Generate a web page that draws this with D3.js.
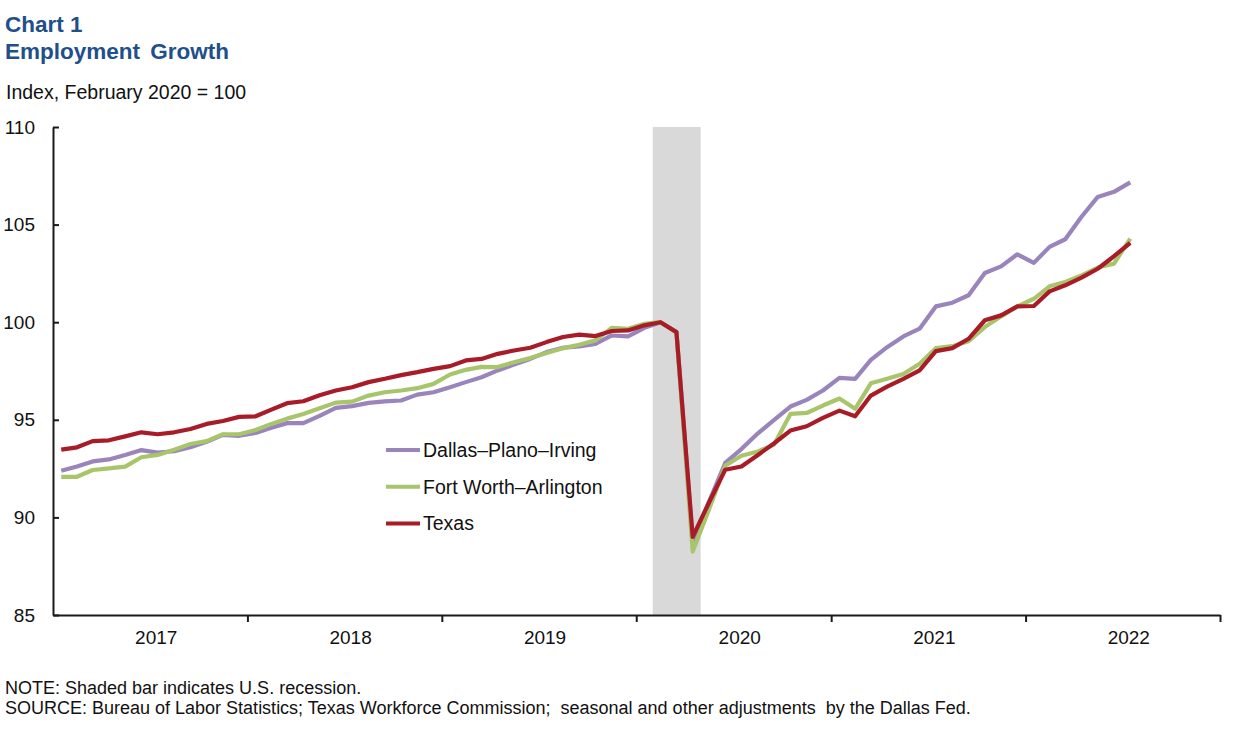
<!DOCTYPE html>
<meta charset="utf-8">
<style>
body { margin: 0; background: #fff; }
svg text { font-family: "Liberation Sans", Arial, sans-serif; fill: #111; }
.title { font-weight: bold; font-size: 22.5px; fill: #214f8a; }
.axis path, .axis line { stroke: #1a1a1a; stroke-width: 2; }
.axis text { font-size: 19px; }
.line { fill: none; stroke-width: 4.2; stroke-linejoin: round; }
</style>
<body></body>
<script src="https://d3js.org/d3.v7.min.js"></script>
<script>
// monthly, Jan 2017 .. Jul 2022
var firstMonth = new Date(2017, 0, 1);
var years = ["2017", "2018", "2019", "2020", "2021", "2022"];

var dallas = [
  92.39, 92.61, 92.87, 92.97, 93.2, 93.45, 93.32, 93.39, 93.6, 93.87, 94.23, 94.18,
  94.33, 94.59, 94.83, 94.83, 95.2, 95.61, 95.7, 95.87, 95.94, 95.99, 96.29, 96.41,
  96.67, 96.93, 97.18, 97.53, 97.83, 98.12, 98.47, 98.69, 98.76, 98.89, 99.32, 99.27,
  99.71, 100, 99.5, 88.8, 90.8, 92.79, 93.5, 94.31, 94.99, 95.68, 96.02, 96.5,
  97.15, 97.1, 98.07, 98.72, 99.27, 99.67, 100.81, 101.0, 101.38, 102.52, 102.86, 103.48,
  103.04, 103.86, 104.25, 105.4, 106.42, 106.68, 107.16
];
var fortWorth = [
  92.08, 92.08, 92.43, 92.51, 92.6, 93.08, 93.2, 93.47, 93.76, 93.91, 94.26, 94.26,
  94.48, 94.79, 95.06, 95.3, 95.59, 95.88, 95.93, 96.24, 96.41, 96.5, 96.62, 96.84,
  97.32, 97.56, 97.71, 97.7, 97.95, 98.16, 98.42, 98.67, 98.84, 99.07, 99.71, 99.66,
  99.92, 100, 99.5, 88.25, 90.4, 92.65, 93.16, 93.38, 93.73, 95.3, 95.35, 95.73,
  96.09, 95.56, 96.87, 97.1, 97.35, 97.87, 98.67, 98.77, 99.03, 99.75, 100.3, 100.81,
  101.2, 101.84, 102.06, 102.4, 102.8, 103.0, 104.28
];
var texas = [
  93.47, 93.59, 93.91, 93.95, 94.15, 94.36, 94.26, 94.36, 94.53, 94.79, 94.94, 95.15,
  95.18, 95.52, 95.85, 95.95, 96.26, 96.5, 96.67, 96.93, 97.1, 97.29, 97.44, 97.61,
  97.75, 98.04, 98.12, 98.38, 98.55, 98.69, 98.98, 99.24, 99.36, 99.29, 99.55, 99.58,
  99.84, 100, 99.49, 89.0, 90.75, 92.44, 92.61, 93.2, 93.8, 94.45, 94.67, 95.1,
  95.47, 95.18, 96.24, 96.7, 97.1, 97.53, 98.52, 98.67, 99.15, 100.1, 100.35, 100.81,
  100.83, 101.58, 101.89, 102.28, 102.74, 103.38, 104.06
];
var yTicks = [85, 90, 95, 100, 105, 110];
var recession = [new Date(2020, 1, 1), new Date(2020, 4, 1)];

var seriesNames = ["Dallas\u2013Plano\u2013Irving", "Fort Worth\u2013Arlington", "Texas"];
var seriesColors = ["#9a84bc", "#a9c56c", "#a81c28"];
var seriesValues = [dallas, fortWorth, texas];

var svg = d3.select("body").append("svg")
    .attr("width", 1244)
    .attr("height", 734);

var x = d3.scaleTime()
    .domain([new Date(2017, 0, 1), new Date(2023, 0, 1)])
    .range([53, 1220]);
var y = d3.scaleLinear()
    .domain([85, 110])
    .range([615, 127]);

// middle of a month
function xm(i) {
  var a = d3.timeMonth.offset(firstMonth, i), b = d3.timeMonth.offset(firstMonth, i + 1);
  return (x(a) + x(b)) / 2;
}

// titles
svg.append("text").attr("class", "title").attr("x", 5).attr("y", 32).text("Chart 1");
svg.append("text").attr("class", "title").attr("x", 5).attr("y", 59)
    .style("word-spacing", "4px").text("Employment Growth");
svg.append("text").attr("x", 6).attr("y", 99).style("font-size", "19.5px")
    .text("Index, February 2020 = 100");

// recession bar
svg.append("rect")
    .attr("x", x(recession[0]))
    .attr("y", y(110))
    .attr("width", x(recession[1]) - x(recession[0]))
    .attr("height", y(85) - y(110))
    .attr("fill", "#d9d9d9");

// y axis
var yAxis = svg.append("g")
    .attr("class", "axis")
    .attr("transform", "translate(53,0)")
    .call(d3.axisRight(y).tickValues(yTicks).tickSize(6).tickSizeOuter(0));
yAxis.selectAll("text")
    .attr("x", -18)
    .attr("text-anchor", "end");

// x axis: ticks at year boundaries, labels mid year
var yearStarts = d3.range(2018, 2024).map(function(d) { return new Date(d, 0, 1); });
var xAxis = svg.append("g")
    .attr("class", "axis")
    .attr("transform", "translate(0,615)")
    .call(d3.axisBottom(x).tickValues(yearStarts).tickSize(7).tickSizeOuter(0).tickFormat(""));
xAxis.selectAll(".yearlabel")
    .data(years)
    .enter().append("text")
    .attr("class", "yearlabel")
    .attr("x", function(d) { return (x(new Date(+d, 0, 1)) + x(new Date(+d + 1, 0, 1))) / 2 + 6; })
    .attr("y", 29)
    .attr("text-anchor", "middle")
    .style("font-size", "19px")
    .text(function(d) { return d; });

// lines
var line = d3.line()
    .x(function(d, i) { return xm(i); })
    .y(function(d) { return y(d); });

seriesValues.forEach(function(vals, k) {
  svg.append("path")
      .datum(vals)
      .attr("class", "line")
      .attr("stroke", seriesColors[k])
      .attr("d", line);
});

// legend
var legend = svg.append("g").attr("transform", "translate(386,450)");
seriesNames.forEach(function(name, k) {
  var row = legend.append("g").attr("transform", "translate(0," + (k * 36.7) + ")");
  row.append("line")
      .attr("x1", 0).attr("x2", 34)
      .attr("stroke", seriesColors[k])
      .attr("stroke-width", 4);
  row.append("text")
      .attr("x", 37).attr("dy", "0.35em")
      .style("font-size", "19.5px")
      .text(name);
});

// notes
svg.append("text").attr("x", 5).attr("y", 694).style("font-size", "18px")
    .text("NOTE: Shaded bar indicates U.S. recession.");
svg.append("text").attr("x", 5).attr("y", 714).style("font-size", "18px")
    .style("white-space", "pre")
    .text("SOURCE: Bureau of Labor Statistics; Texas Workforce Commission;  seasonal and other adjustments  by the Dallas Fed.");
</script>
